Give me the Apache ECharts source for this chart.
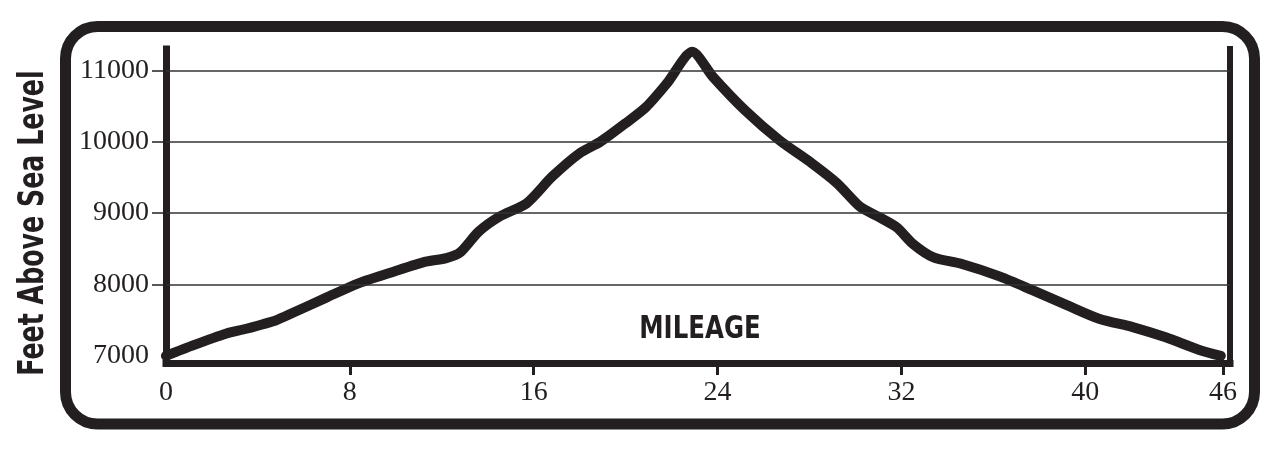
<!DOCTYPE html>
<html>
<head>
<meta charset="utf-8">
<script src="https://cdn.jsdelivr.net/npm/echarts@6/dist/echarts.min.js"></script>
<style>
  html, body { margin: 0; padding: 0; background: #ffffff; }
  #chart { width: 1280px; height: 451px; }
</style>
</head>
<body>
<div id="chart"></div>
<script>
// ---- data ----
const miles = [0, 1.2, 2.6, 3.5, 4.8, 5.5, 7.0, 8.4, 9.9, 11.3, 12.2, 12.8, 13.6, 14.5, 15.7, 16.8, 18.0, 18.9, 20.0, 20.9, 21.8, 22.9, 23.8, 25.2, 26.7, 28.1, 29.2, 30.2, 31.0, 31.8, 32.5, 33.4, 34.6, 36.3, 37.7, 39.2, 40.6, 42.1, 43.5, 45.0, 45.9];
const elevation = [7000, 7150, 7310, 7380, 7500, 7600, 7820, 8020, 8180, 8320, 8370, 8450, 8740, 8950, 9140, 9510, 9840, 10000, 10260, 10490, 10820, 11260, 10910, 10440, 10020, 9700, 9420, 9090, 8950, 8800, 8570, 8380, 8290, 8110, 7920, 7710, 7520, 7400, 7260, 7080, 7000];
const xTickLabels = [0, 8, 16, 24, 32, 40, 46];
const xTickMarks = [8, 16, 24, 32, 40, 46];
const yTickLabels = [7000, 8000, 9000, 10000, 11000];
const yGridValues = [8000, 9000, 10000, 11000];
const yTitle = 'Feet Above Sea Level';
const xTitle = 'MILEAGE';

const INK = '#231f20';
const SERIF = '"Liberation Serif", "DejaVu Serif", serif';
const NARROW = '"Liberation Sans Narrow", "DejaVu Sans Condensed", sans-serif';

const chart = echarts.init(document.getElementById('chart'), null, { renderer: 'canvas' });

const seriesData = miles.map((m, i) => [m, elevation[i]]);

const option = {
  animation: false,
  backgroundColor: '#ffffff',
  grid: { left: 166, right: 50, top: 49, bottom: 88 },
  xAxis: {
    type: 'value',
    min: 0,
    max: 46.3,
    splitLine: { show: false },
    axisLine: { show: true, onZero: false, lineStyle: { color: INK, width: 7, cap: 'square' } },
    axisTick: { show: true, customValues: xTickMarks, length: 12, lineStyle: { color: INK, width: 3 } },
    axisLabel: { customValues: xTickLabels, margin: 16, color: INK, fontFamily: SERIF, fontSize: 28, formatter: v => String(v) }
  },
  yAxis: [
    {
      type: 'value',
      min: 6900,
      max: 11300,
      position: 'left',
      splitLine: { show: false },
      axisLine: { show: true, lineStyle: { color: INK, width: 7, cap: 'square' } },
      axisTick: { show: true, customValues: yGridValues, length: 14, lineStyle: { color: INK, width: 1.5 } },
      axisLabel: { customValues: yTickLabels, margin: 17, color: INK, fontFamily: SERIF, fontSize: 28, formatter: v => String(v) }
    },
    {
      type: 'value',
      min: 6900,
      max: 11300,
      position: 'right',
      splitLine: { show: false },
      axisLine: { show: true, lineStyle: { color: INK, width: 6, cap: 'square' } },
      axisTick: { show: false },
      axisLabel: { show: false }
    }
  ],
  graphic: [
    {
      type: 'rect',
      shape: { x: 65.5, y: 26.5, width: 1189, height: 397.5, r: 32 },
      style: { fill: 'none', stroke: INK, lineWidth: 11 },
      silent: true
    },
    {
      type: 'text',
      x: 34, y: 223,
      rotation: Math.PI / 2,
      scaleX: 0.78,
      style: { text: yTitle, fill: INK, font: 'bold 36px ' + NARROW, align: 'center', verticalAlign: 'middle' },
      silent: true
    },
    {
      type: 'text',
      x: 700, y: 330,
      scaleX: 0.85,
      style: { text: xTitle, fill: INK, font: 'bold 32px ' + NARROW, align: 'center', verticalAlign: 'middle' },
      silent: true
    }
  ],
  series: [
    {
      type: 'line',
      data: seriesData,
      showSymbol: false,
      symbol: 'none',
      smooth: 0.25,
      lineStyle: { color: INK, width: 10, cap: 'round', join: 'round' },
      markLine: {
        silent: true,
        symbol: ['none', 'none'],
        label: { show: false },
        lineStyle: { color: '#333', width: 1.5, type: 'solid' },
        data: yGridValues.map(v => ({ yAxis: v }))
      },
      z: 3
    }
  ]
};

chart.setOption(option);
</script>
</body>
</html>
